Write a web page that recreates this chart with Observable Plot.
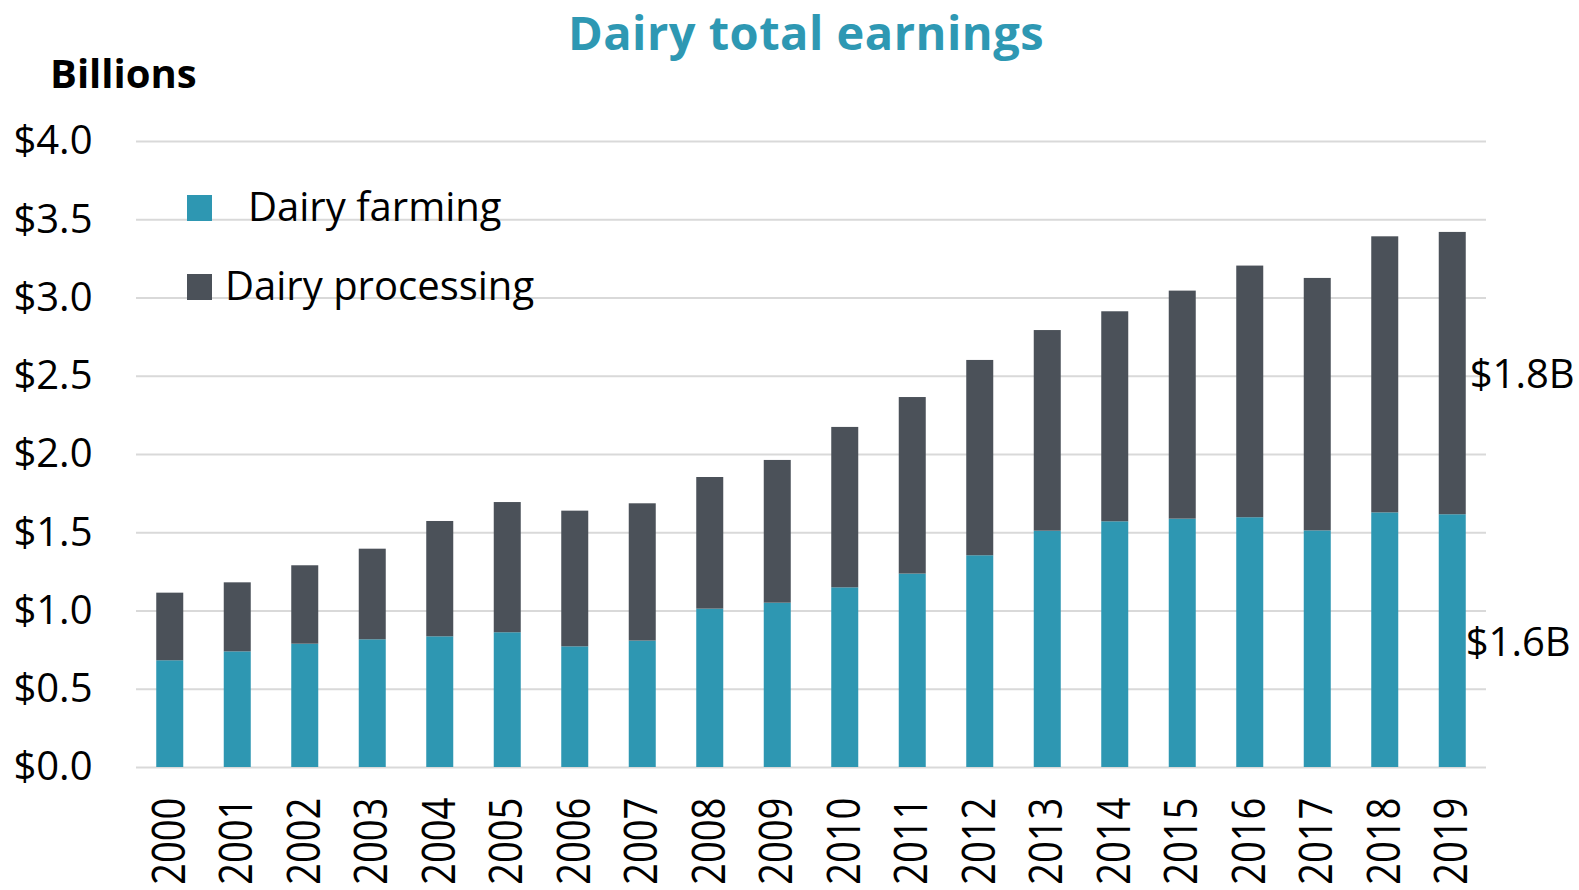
<!DOCTYPE html>
<html>
<head>
<meta charset="utf-8">
<script src="https://cdn.jsdelivr.net/npm/d3@7"></script>
<script src="https://cdn.jsdelivr.net/npm/@observablehq/plot@0.6"></script>
<style>
  html, body { margin: 0; padding: 0; background: #fff; }
  #page { position: relative; width: 1579px; height: 890px; overflow: hidden; font-family: "Open Sans", "Noto Sans", sans-serif; }
  #header { position: relative; height: 100px; }
  #title { position: absolute; left: 806px; top: 8.5px; transform: translateX(-50%); font-size: 47px; letter-spacing: 0.5px; line-height: 1; font-weight: 700; color: #2E98B3; white-space: nowrap; }
  #unit { position: absolute; left: 50px; top: 53px; font-size: 40px; line-height: 1; font-weight: 700; color: #000; }
  .lg-sw { position: absolute; width: 25px; height: 26px; }
  .lg-tx { position: absolute; font-size: 40px; line-height: 1; color: #000; white-space: nowrap; }
  #chart svg { display: block; }
</style>
</head>
<body>
<div id="page">
  <div id="header">
    <div id="title">Dairy total earnings</div>
    <div id="unit">Billions</div>
  </div>
  <div id="chart"></div>
  <div id="legend"></div>
</div>
<script>
// ---- data (billions of dollars) ----
const years = ["2000","2001","2002","2003","2004","2005","2006","2007","2008","2009",
               "2010","2011","2012","2013","2014","2015","2016","2017","2018","2019"];
const farming = [0.682,0.739,0.788,0.816,0.835,0.861,0.771,0.808,1.012,1.050,
                 1.148,1.236,1.353,1.510,1.570,1.587,1.596,1.512,1.627,1.615];
const processing = [0.432,0.441,0.501,0.579,0.737,0.832,0.867,0.877,0.841,0.912,
                    1.025,1.128,1.248,1.282,1.342,1.457,1.608,1.613,1.764,1.804];
const seriesNames = ["Dairy farming", "Dairy processing"];
const seriesColors = ["#2E97B2", "#4B5159"];
const yTicks = [0, 0.5, 1.0, 1.5, 2.0, 2.5, 3.0, 3.5, 4.0];

// ---- build table ----
const rows = [];
years.forEach((y, i) => rows.push({year: y, series: seriesNames[0], value: farming[i]}));
years.forEach((y, i) => rows.push({year: y, series: seriesNames[1], value: processing[i]}));

const last = years.length - 1;
const labels = [
  {year: years[last], y: processing[last] / 2 + farming[last], text: "$" + processing[last].toFixed(1) + "B"},
  {year: years[last], y: farming[last] / 2, text: "$" + farming[last].toFixed(1) + "B"}
];

const chart = Plot.plot({
  width: 1579,
  height: 790,
  marginTop: 41,
  marginBottom: 123,
  marginLeft: 136,
  marginRight: 93,
  style: {fontFamily: "'Open Sans', 'Noto Sans', sans-serif", color: "#000", background: "#fff"},
  x: {domain: years, paddingInner: 0.6, paddingOuter: 0.3, round: false, label: null},
  y: {domain: [0, 4], label: null},
  color: {domain: seriesNames, range: seriesColors},
  marks: [
    Plot.ruleY(yTicks, {stroke: "#D9D9D9", strokeWidth: 2}),
    Plot.barY(rows, {x: "year", y: "value", fill: "series", order: null}),
    Plot.axisY({ticks: yTicks, tickFormat: d => "$" + d.toFixed(1), tickSize: 0, tickPadding: 44, fontSize: 40, label: null}),
    Plot.axisX({tickRotate: -90, tickSize: 0, tickPadding: 30, fontSize: 45, label: null}),
    Plot.text(labels.slice(0, 1), {x: "year", y: "y", text: "text", textAnchor: "start", fontSize: 40, fill: "#000", dx: 17, dy: 2}),
    Plot.text(labels.slice(1), {x: "year", y: "y", text: "text", textAnchor: "start", fontSize: 40, fill: "#000", dx: 13, dy: 2})
  ]
});
// compress the rotated year labels along their reading direction (narrower digits, as in the reference)
chart.querySelectorAll('g[aria-label="x-axis tick label"] text').forEach(t => {
  const tr = t.getAttribute("transform") || "";
  t.setAttribute("transform", tr + " scale(0.85,1)");
});
document.getElementById("chart").appendChild(chart);

// ---- legend ----
const legend = document.getElementById("legend");
const lgPos = [
  {sw: [187, 195], tx: [248, 186]},
  {sw: [187, 274], tx: [225, 265]}
];
seriesNames.forEach((name, i) => {
  const sw = document.createElement("div");
  sw.className = "lg-sw";
  sw.style.left = lgPos[i].sw[0] + "px";
  sw.style.top = lgPos[i].sw[1] + "px";
  sw.style.background = seriesColors[i];
  legend.appendChild(sw);
  const tx = document.createElement("div");
  tx.className = "lg-tx";
  tx.style.left = lgPos[i].tx[0] + "px";
  tx.style.top = lgPos[i].tx[1] + "px";
  tx.textContent = name;
  legend.appendChild(tx);
});
</script>
</body>
</html>
